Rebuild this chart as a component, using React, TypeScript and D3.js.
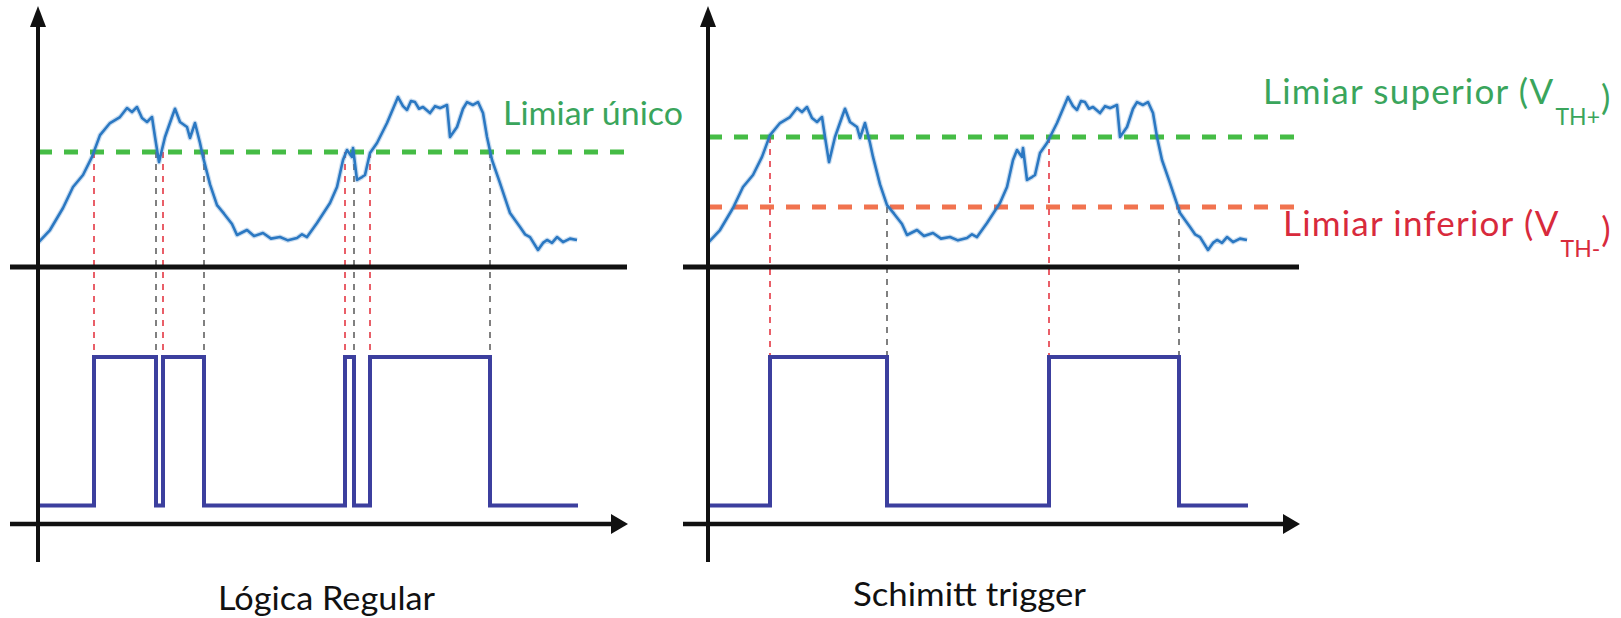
import React, { useLayoutEffect, useRef, useState } from "react";
import * as d3 from "d3";

// ---- data ----
// noisy input signal: time (ms) and level (% of full scale)
const signalTime = [0, 12, 25, 35, 45, 54, 62, 72, 82, 89, 94, 99, 104, 109, 114, 117, 121, 127, 134, 137, 142, 149, 152, 157, 162, 165, 172, 179, 186, 194, 199, 209, 216, 225, 233, 242, 250, 259, 264, 269, 279, 292, 299, 305, 309, 314, 315, 319, 324, 327, 332, 339, 349, 360, 365, 369, 373, 377, 381, 385, 392, 397, 402, 409, 412, 419, 425, 429, 435, 440, 445, 449, 454, 462, 472, 482, 487, 492, 500, 505, 509, 514, 519, 525, 532, 539];
const signalLevel = [14.0, 21.5, 34.3, 46.5, 53.5, 64.0, 76.7, 83.7, 87.2, 92.4, 90.1, 93.0, 86.6, 84.3, 87.2, 75.6, 61.0, 75.6, 87.2, 92.0, 84.3, 81.4, 75.0, 83.7, 72.1, 64.0, 48.0, 36.0, 31.0, 25.0, 18.6, 21.5, 18.0, 19.8, 16.5, 17.4, 15.5, 16.9, 19.0, 17.4, 25.6, 37.2, 46.5, 62.2, 68.0, 64.0, 69.2, 50.6, 52.3, 53.5, 66.3, 72.1, 83.7, 98.8, 93.5, 91.3, 96.5, 95.9, 92.0, 93.0, 89.5, 93.5, 92.4, 94.2, 75.6, 81.4, 92.0, 95.9, 94.2, 95.9, 89.5, 75.6, 62.2, 48.8, 31.4, 23.3, 19.0, 17.4, 9.9, 14.0, 15.7, 14.0, 17.4, 14.5, 16.5, 15.7];

// thresholds (% of full scale)
const singleThreshold = 66.9;
const upperThreshold = 75.6;
const lowerThreshold = 34.9;

// output switching instants (ms); output starts low
const regularEdges = [56, 118, 125, 166, 307, 316, 332, 452];
const schmittEdges = [62, 179, 341, 471];

const timeDomain = [0, 540];

// ---- layout ----
const W = 1621;
const H = 618;
const FONT = "Lato, 'Open Sans', sans-serif";
const GREEN_LINE = "#31b531";
const ORANGE_LINE = "#f0643c";
const GREEN_TEXT = "#3aa55c";
const RED_TEXT = "#d82a3c";
const SIGNAL = "#2b78c2";
const SQUARE = "#3c3f9e";
const RISE = "#e6444e";
const FALL = "#6b6b6b";

const yAnalog = d3.scaleLinear().domain([0, 100]).range([267, 95]);
const yDigital = d3.scaleLinear().domain([0, 1]).range([505.5, 357]);

function squarePoints(edges: number[]): [number, number][] {
  const pts: [number, number][] = [[timeDomain[0], 0]];
  let lvl = 0;
  edges.forEach((e) => {
    lvl = 1 - lvl;
    pts.push([e, lvl]);
  });
  pts.push([timeDomain[1], lvl]);
  return pts;
}

type PanelProps = {
  x0: number;
  lineLeft: number;
  lineRight: number;
  edges: number[];
  thresholds: { v: number; color: string }[];
  riseFrom: number;
  fallFrom: number;
};

function Panel({ x0, lineLeft, lineRight, edges, thresholds, riseFrom, fallFrom }: PanelProps) {
  const x = d3.scaleLinear().domain(timeDomain).range([x0, x0 + 540]);
  const sig = d3
    .line<number>()
    .x((_, i) => x(signalTime[i]))
    .y((d) => yAnalog(d))
    .curve(d3.curveLinear)(signalLevel) as string;
  const sq = d3
    .line<[number, number]>()
    .x((d) => x(d[0]))
    .y((d) => yDigital(d[1]))
    .curve(d3.curveStepAfter)(squarePoints(edges)) as string;
  const axisY = 524;
  const tip = lineRight + 1;
  return (
    <g>
      {thresholds.map((t, i) => (
        <line key={i} x1={x0} x2={lineRight - 1} y1={yAnalog(t.v)} y2={yAnalog(t.v)}
          stroke={t.color} strokeWidth={5} strokeDasharray="14 12" opacity={0.9} />
      ))}
      {edges.map((e, i) => {
        const rising = i % 2 === 0;
        return (
          <line key={"c" + i} x1={x(e)} x2={x(e)}
            y1={yAnalog(rising ? riseFrom : fallFrom)} y2={yDigital(1)}
            stroke={rising ? RISE : FALL} strokeWidth={2} strokeDasharray="6 6" opacity={0.85} />
        );
      })}
      <line x1={lineLeft} x2={lineRight} y1={yAnalog(0)} y2={yAnalog(0)} stroke="#111" strokeWidth={5} />
      <path d={sig} fill="none" stroke={SIGNAL} strokeWidth={5} opacity={0.25} strokeLinejoin="round" />
      <path d={sig} fill="none" stroke={SIGNAL} strokeWidth={2.6} strokeLinejoin="round" />
      <path d={sq} fill="none" stroke={SQUARE} strokeWidth={4} />
      <line x1={x0} x2={x0} y1={562} y2={22} stroke="#111" strokeWidth={4} />
      <path d={`M${x0},6 L${x0 - 8},27 L${x0 + 8},27 Z`} fill="#111" />
      <line x1={lineLeft} x2={tip - 14} y1={axisY} y2={axisY} stroke="#111" strokeWidth={4.5} />
      <path d={`M${tip},${axisY} L${tip - 17},${axisY - 10} L${tip - 17},${axisY + 10} Z`} fill="#111" />
    </g>
  );
}

type SubLabelProps = { x: number; y: number; main: string; sub: string; color: string };

function SubLabel({ x, y, main, sub, color }: SubLabelProps) {
  const mainRef = useRef<SVGTextElement>(null);
  const subRef = useRef<SVGTextElement>(null);
  const [mw, setMw] = useState(292);
  const [sw, setSw] = useState(34);
  useLayoutEffect(() => {
    if (mainRef.current) setMw(mainRef.current.getBBox().width);
    if (subRef.current) setSw(subRef.current.getBBox().width);
  }, []);
  const subX = x + mw + 1;
  return (
    <g fill={color}>
      <text ref={mainRef} x={x} y={y} fontSize={35} letterSpacing={1.2}>{main}</text>
      <text ref={subRef} x={subX} y={y + 21} fontSize={23}>{sub}</text>
      <text x={subX + sw + 1} y={y + 6} fontSize={35}>)</text>
    </g>
  );
}

export default function App() {
  return (
    <svg width={W} height={H} style={{ position: "absolute", left: 0, top: 0, background: "#fff" }}
      fontFamily={FONT}>
      <rect width={W} height={H} fill="#fff" />
      <Panel x0={38} lineLeft={10} lineRight={627} edges={regularEdges}
        thresholds={[{ v: singleThreshold, color: GREEN_LINE }]}
        riseFrom={singleThreshold} fallFrom={singleThreshold} />
      <Panel x0={708} lineLeft={683} lineRight={1299} edges={schmittEdges}
        thresholds={[{ v: upperThreshold, color: GREEN_LINE }, { v: lowerThreshold, color: ORANGE_LINE }]}
        riseFrom={upperThreshold} fallFrom={lowerThreshold} />

      <text x={503} y={125} fontSize={33} fill={GREEN_TEXT} textLength={180} lengthAdjust="spacingAndGlyphs">Limiar único</text>

      <SubLabel x={1263} y={104} main="Limiar superior (V" sub="TH+" color={GREEN_TEXT} />
      <SubLabel x={1283} y={236} main="Limiar inferior (V" sub="TH-" color={RED_TEXT} />

      <text x={218} y={610} fontSize={33} fill="#111" textLength={217} lengthAdjust="spacingAndGlyphs">Lógica Regular</text>
      <text x={853} y={606} fontSize={33} fill="#111" textLength={233} lengthAdjust="spacingAndGlyphs">Schimitt trigger</text>
    </svg>
  );
}
